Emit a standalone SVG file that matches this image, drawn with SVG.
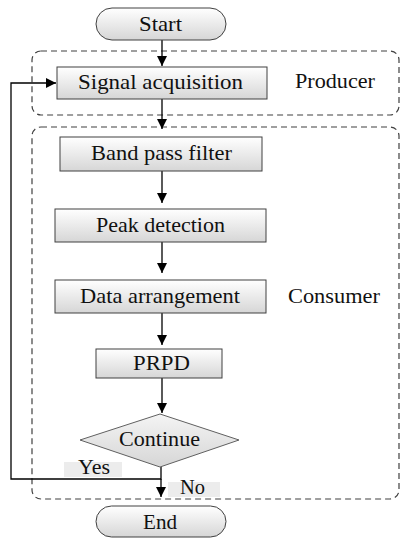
<svg xmlns="http://www.w3.org/2000/svg" width="400" height="540" viewBox="0 0 400 540">
<defs>
<linearGradient id="gbox" x1="0" y1="0" x2="0" y2="1">
<stop offset="0" stop-color="#ffffff"/>
<stop offset="1" stop-color="#d6d6d6"/>
</linearGradient>
<linearGradient id="gdia" x1="0" y1="0" x2="0" y2="1">
<stop offset="0" stop-color="#f4f4f4"/>
<stop offset="1" stop-color="#d6d6d6"/>
</linearGradient>
<marker id="arr" viewBox="0 0 10 10" refX="10" refY="5" markerWidth="10" markerHeight="10" markerUnits="userSpaceOnUse" orient="auto">
<path d="M0,0 L10,5 L0,10 z" fill="#000"/>
</marker>
</defs>
<style>
.box{fill:url(#gbox);stroke:#404040;stroke-width:1}
.pill{fill:url(#gbox);stroke:#404040;stroke-width:1}
.dia{fill:url(#gdia);stroke:#606060;stroke-width:1}
.grp{fill:none;stroke:#404040;stroke-width:1.2;stroke-dasharray:6,4}
text{font-family:"Liberation Serif","DejaVu Serif","Noto Serif",serif;font-size:21px;fill:#111}
.lbl{text-anchor:middle}
.conn{fill:none;stroke:#000;stroke-width:1.3}
.tagbg{fill:#ececec}
</style>
<rect width="400" height="540" fill="#fff"/>
<g id="groups">
<rect id="producer-group" class="grp" x="32" y="51" width="367" height="64" rx="9"/>
<rect id="consumer-group" class="grp" x="32" y="127" width="367" height="372" rx="9"/>
<text x="295" y="88" textLength="80" lengthAdjust="spacingAndGlyphs">Producer</text>
<text x="288" y="303" textLength="92" lengthAdjust="spacingAndGlyphs">Consumer</text>
</g>
<g id="connectors">
<line class="conn" x1="162" y1="40" x2="162" y2="66" marker-end="url(#arr)"/>
<line class="conn" x1="162" y1="99" x2="162" y2="129" marker-end="url(#arr)"/>
<line class="conn" x1="162" y1="171" x2="162" y2="203" marker-end="url(#arr)"/>
<line class="conn" x1="162" y1="242" x2="162" y2="273" marker-end="url(#arr)"/>
<line class="conn" x1="162" y1="313" x2="162" y2="345" marker-end="url(#arr)"/>
<line class="conn" x1="162" y1="378" x2="162" y2="413" marker-end="url(#arr)"/>
<polyline class="conn" points="161,467 161,479 11,479 11,83 56,83" marker-end="url(#arr)"/>
<line class="conn" x1="161" y1="479" x2="161" y2="497" marker-end="url(#arr)"/>
<rect class="tagbg" x="64" y="462" width="58" height="15"/>
<text x="78" y="474" textLength="32" lengthAdjust="spacingAndGlyphs">Yes</text>
<rect class="tagbg" x="168" y="482" width="52" height="15"/>
<text x="180" y="494" textLength="25" lengthAdjust="spacingAndGlyphs">No</text>
</g>
<g id="start">
<rect class="pill" x="96" y="8" width="130" height="32" rx="16"/>
<text class="lbl" x="160.5" y="31" textLength="43" lengthAdjust="spacingAndGlyphs">Start</text>
</g>
<g id="signal-acquisition">
<rect class="box" x="57" y="67" width="210" height="32"/>
<text class="lbl" x="160.5" y="89" textLength="165" lengthAdjust="spacingAndGlyphs">Signal acquisition</text>
</g>
<g id="band-pass-filter">
<rect class="box" x="60" y="137" width="202" height="34"/>
<text class="lbl" x="161.5" y="160" textLength="141" lengthAdjust="spacingAndGlyphs">Band pass filter</text>
</g>
<g id="peak-detection">
<rect class="box" x="55" y="209" width="211" height="33"/>
<text class="lbl" x="160.5" y="232" textLength="129" lengthAdjust="spacingAndGlyphs">Peak detection</text>
</g>
<g id="data-arrangement">
<rect class="box" x="55" y="280" width="211" height="33"/>
<text class="lbl" x="160" y="303" textLength="160" lengthAdjust="spacingAndGlyphs">Data arrangement</text>
</g>
<g id="prpd">
<rect class="box" x="96" y="349" width="126" height="29"/>
<text class="lbl" x="161.5" y="370" textLength="57" lengthAdjust="spacingAndGlyphs">PRPD</text>
</g>
<g id="continue">
<polygon class="dia" points="160,414 239,440 160,467 80,440"/>
<text class="lbl" x="159.5" y="446" textLength="81" lengthAdjust="spacingAndGlyphs">Continue</text>
</g>
<g id="end">
<rect class="pill" x="96" y="506" width="130" height="31" rx="15.5"/>
<text class="lbl" x="160" y="529" textLength="34" lengthAdjust="spacingAndGlyphs">End</text>
</g>
</svg>
